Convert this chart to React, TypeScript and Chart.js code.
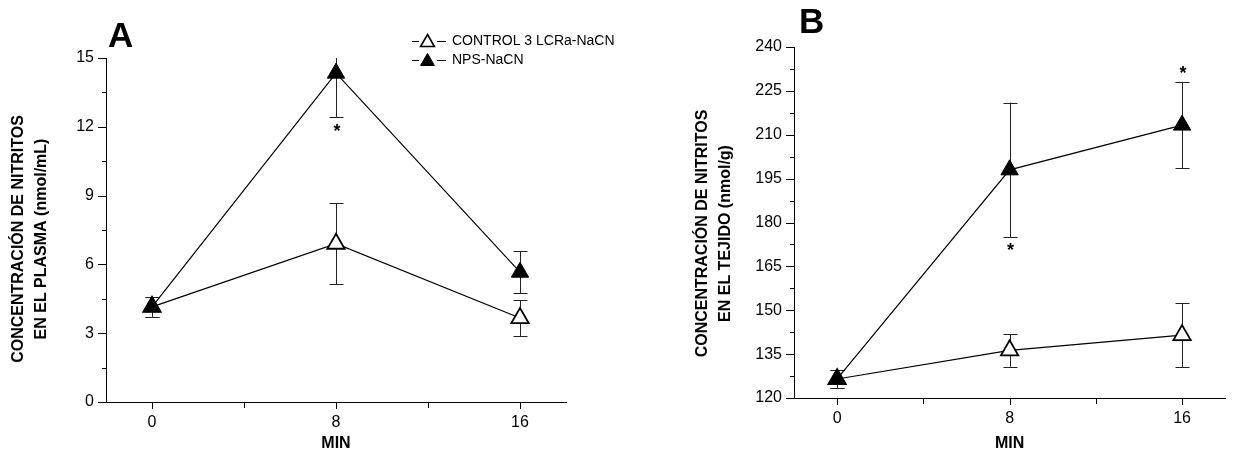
import React, { useEffect, useRef } from 'react';
import { Chart, registerables } from 'chart.js';

Chart.register(...registerables);

// ---------- data ----------
const minutes = [0, 8, 16];
const seriesLabels = ['CONTROL 3 LCRa-NaCN', 'NPS-NaCN'];

const plasmaControl = [4.15, 6.9, 3.66];
const plasmaControlErr = [0.43, 1.77, 0.78];
const plasmaNps = [4.15, 14.34, 5.66];
const plasmaNpsErr = [0.43, 1.91, 0.92];
const plasmaStarX = [8];
const plasmaStarY = [12.0];

const tissueControl = [126.5, 136.3, 141.5];
const tissueControlErr = [3.1, 5.6, 11.0];
const tissueNps = [126.5, 198.0, 213.3];
const tissueNpsErr = [3.1, 23.0, 14.8];
const tissueStarX = [8, 16];
const tissueStarY = [172.3, 232.8];

const xMajorTicks = [0, 8, 16];
const xTickLabels = ['0', '8', '16'];
const xMinorTicks = [4, 12];
const plasmaYTicks = [0, 3, 6, 9, 12, 15];
const tissueYTicks = [120, 135, 150, 165, 180, 195, 210, 225, 240];

const FONT = '"Liberation Sans", Arial, Helvetica, sans-serif';

type PanelCfg = {
  w: number;
  h: number;
  area: { left: number; right: number; top: number; bottom: number };
  yMin: number;
  yMax: number;
  yTicks: number[];
  control: number[];
  controlErr: number[];
  nps: number[];
  npsErr: number[];
  starX: number[];
  starY: number[];
  letter: string;
  letterPos: [number, number];
  titleLines: string[];
  titleX: number[];
  titleY: number;
  legend: boolean;
};

function drawTriangle(ctx: CanvasRenderingContext2D, x: number, y: number, r: number, filled: boolean) {
  ctx.beginPath();
  let a = 0;
  ctx.moveTo(x + Math.sin(a) * r, y - Math.cos(a) * r);
  a += (2 * Math.PI) / 3;
  ctx.lineTo(x + Math.sin(a) * r, y - Math.cos(a) * r);
  a += (2 * Math.PI) / 3;
  ctx.lineTo(x + Math.sin(a) * r, y - Math.cos(a) * r);
  ctx.closePath();
  ctx.fillStyle = filled ? '#000' : '#fff';
  ctx.fill();
  ctx.lineWidth = filled ? 1 : 1.6;
  ctx.strokeStyle = '#000';
  ctx.stroke();
}

function makePlugin(cfg: PanelCfg) {
  return {
    id: 'panelExtras',
    beforeDatasetsDraw(chart: any) {
      const ctx: CanvasRenderingContext2D = chart.ctx;
      const ya = chart.scales.y;
      const xa = chart.scales.x;
      const ca = chart.chartArea;
      const sets = [
        { v: cfg.control, e: cfg.controlErr },
        { v: cfg.nps, e: cfg.npsErr },
      ];
      ctx.save();
      ctx.beginPath();
      ctx.rect(ca.left, ca.top, ca.right - ca.left, ca.bottom - ca.top);
      ctx.clip();
      ctx.strokeStyle = '#222';
      ctx.lineWidth = 1;
      sets.forEach((s) => {
        s.v.forEach((v, i) => {
          const x = Math.round(xa.getPixelForValue(minutes[i])) + 0.5;
          const yTop = ya.getPixelForValue(v + s.e[i]);
          const yBot = ya.getPixelForValue(v - s.e[i]);
          ctx.beginPath();
          ctx.moveTo(x, yTop);
          ctx.lineTo(x, yBot);
          const cap = 7;
          const t = Math.round(yTop) + 0.5;
          const b = Math.round(yBot) + 0.5;
          ctx.moveTo(x - cap, t);
          ctx.lineTo(x + cap, t);
          ctx.moveTo(x - cap, b);
          ctx.lineTo(x + cap, b);
          ctx.stroke();
        });
      });
      ctx.restore();
    },
    afterDraw(chart: any) {
      const ctx: CanvasRenderingContext2D = chart.ctx;
      const ya = chart.scales.y;
      const xa = chart.scales.x;
      const ca = chart.chartArea;
      ctx.save();
      ctx.strokeStyle = '#000';
      ctx.lineWidth = 1;
      // y ticks
      const yt = cfg.yTicks;
      yt.forEach((v, i) => {
        const y = Math.round(ya.getPixelForValue(v)) + 0.5;
        ctx.beginPath();
        ctx.moveTo(ca.left - 8, y);
        ctx.lineTo(ca.left, y);
        ctx.stroke();
        if (i < yt.length - 1) {
          const ym = Math.round(ya.getPixelForValue((v + yt[i + 1]) / 2)) + 0.5;
          ctx.beginPath();
          ctx.moveTo(ca.left - 4, ym);
          ctx.lineTo(ca.left, ym);
          ctx.stroke();
        }
      });
      // x ticks
      xMajorTicks.forEach((v) => {
        const x = Math.round(xa.getPixelForValue(v)) + 0.5;
        ctx.beginPath();
        ctx.moveTo(x, ca.bottom);
        ctx.lineTo(x, ca.bottom + 7);
        ctx.stroke();
      });
      xMinorTicks.forEach((v) => {
        const x = Math.round(xa.getPixelForValue(v)) + 0.5;
        ctx.beginPath();
        ctx.moveTo(x, ca.bottom);
        ctx.lineTo(x, ca.bottom + 6);
        ctx.stroke();
      });

      ctx.fillStyle = '#000';
      // asterisks
      ctx.font = `bold 18px ${FONT}`;
      ctx.textAlign = 'center';
      ctx.textBaseline = 'alphabetic';
      cfg.starX.forEach((sx, i) => {
        const px = xa.getPixelForValue(sx) + 1;
        const py = ya.getPixelForValue(cfg.starY[i]);
        ctx.fillText('*', px, py + 10.5);
      });

      // panel letter
      ctx.font = `bold 35px ${FONT}`;
      ctx.textAlign = 'left';
      ctx.textBaseline = 'alphabetic';
      ctx.fillText(cfg.letter, cfg.letterPos[0], cfg.letterPos[1]);

      // x title
      ctx.font = `bold 16px ${FONT}`;
      ctx.textAlign = 'center';
      ctx.textBaseline = 'middle';
      ctx.fillText('MIN', (ca.left + ca.right) / 2, 444);

      // y title
      ctx.font = `bold 16px ${FONT}`;
      cfg.titleLines.forEach((line, i) => {
        ctx.save();
        ctx.translate(cfg.titleX[i], cfg.titleY);
        ctx.rotate(-Math.PI / 2);
        ctx.textAlign = 'center';
        ctx.textBaseline = 'middle';
        ctx.fillText(line, 0, 0);
        ctx.restore();
      });

      // legend
      if (cfg.legend) {
        const rows = [41, 59.5];
        ctx.font = `14px ${FONT}`;
        ctx.textAlign = 'left';
        ctx.textBaseline = 'middle';
        seriesLabels.forEach((lab, i) => {
          const y = Math.round(rows[i]) + 0.5;
          ctx.strokeStyle = '#000';
          ctx.lineWidth = 1;
          ctx.beginPath();
          ctx.moveTo(412, y);
          ctx.lineTo(419, y);
          ctx.moveTo(437, y);
          ctx.lineTo(446, y);
          ctx.stroke();
          drawTriangle(ctx, 427.5, y + 1, 8, i === 1);
          ctx.fillStyle = '#000';
          ctx.fillText(lab, 452, rows[i] + 0.5);
        });
      }
      ctx.restore();
    },
  };
}

function makeChart(canvas: HTMLCanvasElement, cfg: PanelCfg) {
  return new Chart(canvas, {
    type: 'line',
    data: {
      datasets: [
        {
          label: seriesLabels[0],
          data: minutes.map((m, i) => ({ x: m, y: cfg.control[i] })),
          borderColor: '#000',
          borderWidth: 1.2,
          backgroundColor: '#fff',
          pointStyle: 'triangle',
          pointRadius: 10,
          pointBorderWidth: 1.8,
          pointBackgroundColor: '#fff',
          pointBorderColor: '#000',
          tension: 0,
          order: 1,
        },
        {
          label: seriesLabels[1],
          data: minutes.map((m, i) => ({ x: m, y: cfg.nps[i] })),
          borderColor: '#000',
          borderWidth: 1.2,
          backgroundColor: '#000',
          pointStyle: 'triangle',
          pointRadius: 10,
          pointBorderWidth: 1,
          pointBackgroundColor: '#000',
          pointBorderColor: '#000',
          tension: 0,
          order: 0,
        },
      ],
    },
    options: {
      responsive: false,
      maintainAspectRatio: false,
      animation: false,
      events: [],
      layout: {
        padding: { top: cfg.area.top, right: cfg.w - cfg.area.right, left: 0, bottom: 0 },
      },
      plugins: {
        legend: { display: false },
        tooltip: { enabled: false },
        title: { display: false },
      },
      scales: {
        x: {
          type: 'linear',
          min: -2,
          max: 18,
          grid: { display: false, drawTicks: false },
          border: { display: true, color: '#000', width: 1 },
          ticks: {
            autoSkip: false,
            maxRotation: 0,
            padding: 11,
            color: '#000',
            font: { family: FONT, size: 16 },
            callback: (v: any) => {
              const idx = xMajorTicks.indexOf(Number(v));
              return idx >= 0 ? xTickLabels[idx] : '';
            },
          },
          afterBuildTicks: (s: any) => {
            s.ticks = [...xMajorTicks, ...xMinorTicks].sort((a, b) => a - b).map((v) => ({ value: v }));
          },
          afterFit: (s: any) => {
            s.height = cfg.h - cfg.area.bottom;
          },
        },
        y: {
          type: 'linear',
          min: cfg.yMin,
          max: cfg.yMax,
          grid: { display: false, drawTicks: false },
          border: { display: true, color: '#000', width: 1 },
          ticks: {
            autoSkip: false,
            padding: 12,
            color: '#000',
            font: { family: FONT, size: 16 },
          },
          afterBuildTicks: (s: any) => {
            s.ticks = cfg.yTicks.map((v) => ({ value: v }));
          },
          afterFit: (s: any) => {
            s.width = cfg.area.left;
          },
        },
      },
    },
    plugins: [makePlugin(cfg)],
  } as any);
}

const panelA: PanelCfg = {
  w: 620,
  h: 452,
  area: { left: 106, right: 566, top: 58, bottom: 402 },
  yMin: 0,
  yMax: 15,
  yTicks: plasmaYTicks,
  control: plasmaControl,
  controlErr: plasmaControlErr,
  nps: plasmaNps,
  npsErr: plasmaNpsErr,
  starX: plasmaStarX,
  starY: plasmaStarY,
  letter: 'A',
  letterPos: [108, 47],
  titleLines: ['CONCENTRACIÓN DE NITRITOS', 'EN EL PLASMA (nmol/mL)'],
  titleX: [18.5, 41.5],
  titleY: 239,
  legend: true,
};

const panelB: PanelCfg = {
  w: 617,
  h: 452,
  area: { left: 174, right: 610, top: 47, bottom: 398 },
  yMin: 120,
  yMax: 240,
  yTicks: tissueYTicks,
  control: tissueControl,
  controlErr: tissueControlErr,
  nps: tissueNps,
  npsErr: tissueNpsErr,
  starX: tissueStarX,
  starY: tissueStarY,
  letter: 'B',
  letterPos: [179, 33],
  titleLines: ['CONCENTRACIÓN DE NITRITOS', 'EN EL TEJIDO (nmol/g)'],
  titleX: [83, 105.5],
  titleY: 233.5,
  legend: false,
};

export default function App() {
  const refA = useRef<HTMLCanvasElement | null>(null);
  const refB = useRef<HTMLCanvasElement | null>(null);

  useEffect(() => {
    if (!refA.current || !refB.current) return;
    const a = makeChart(refA.current, panelA);
    const b = makeChart(refB.current, panelB);
    return () => {
      a.destroy();
      b.destroy();
    };
  }, []);

  return (
    <div style={{ position: 'absolute', left: 0, top: 0, width: 1237, height: 452, background: '#fff' }}>
      <canvas
        ref={refA}
        width={panelA.w}
        height={panelA.h}
        style={{ position: 'absolute', left: 0, top: 0, width: panelA.w, height: panelA.h }}
      />
      <canvas
        ref={refB}
        width={panelB.w}
        height={panelB.h}
        style={{ position: 'absolute', left: 620, top: 0, width: panelB.w, height: panelB.h }}
      />
    </div>
  );
}
